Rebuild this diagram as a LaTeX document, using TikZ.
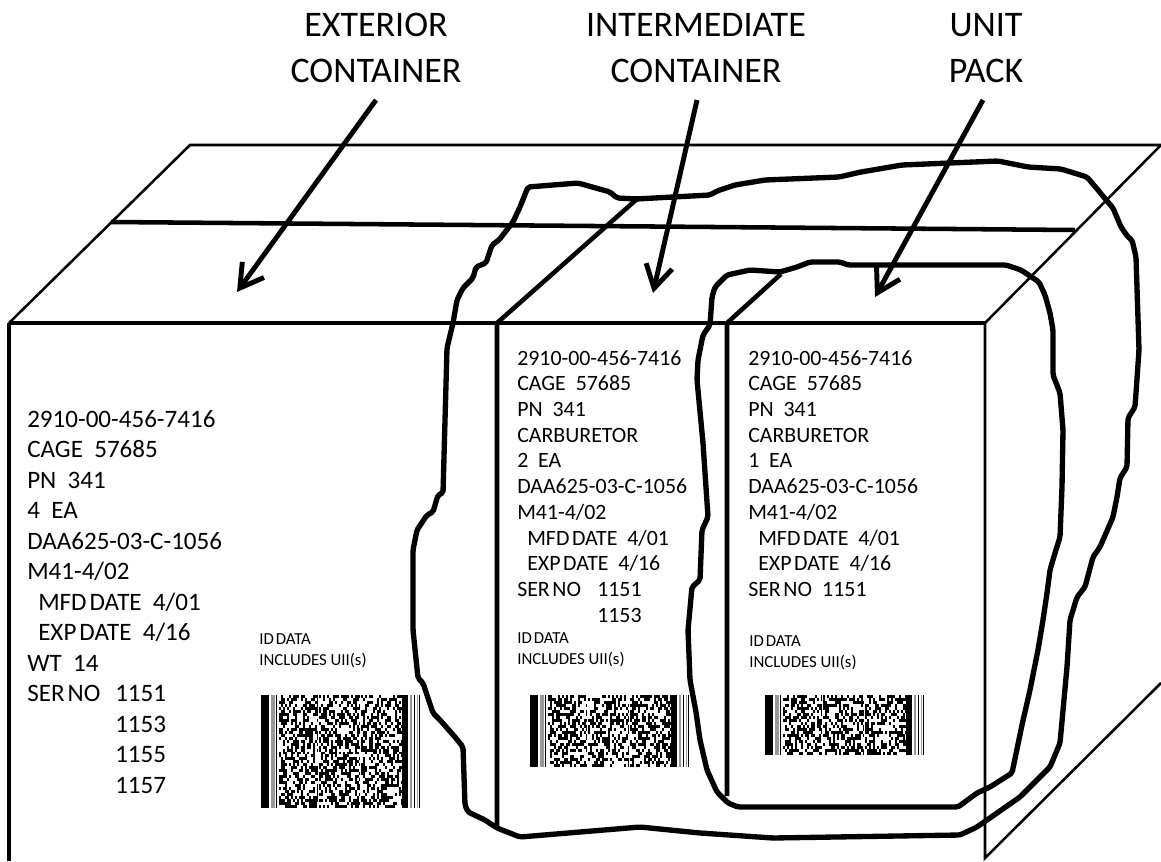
\documentclass[tikz,border=0pt]{standalone}
\usepackage{fontspec}
\setmainfont{Carlito}
\usetikzlibrary{arrows.meta}
\newlength\pxu
\setlength\pxu{0.75pt}
\newcommand\tsp{\hspace{0.12em}}
\newcommand\mybarcode[4]{%
 \begin{scope}[shift={(#1,#2)}]
  \pgfmathsetseed{#4}
  \fill (0,0) rectangle (8,#3);
  \fill[black!40] (9.5,0) rectangle (14,#3);
  \fill (15,0) rectangle (16,#3);
  \pgfmathtruncatemacro\bcrows{round(#3/3)}
  \pgfmathsetmacro\bcrh{#3/\bcrows}
  \foreach \c in {0,...,61}{
    \foreach \r in {1,...,\bcrows}{
      \pgfmathtruncatemacro\bcv{rnd<0.5}
      \ifnum\bcv=1 \fill (18+2*\c,{(\r-1)*\bcrh}) rectangle ++(2,\bcrh);\fi
    }
  }
  \fill[white] (57,0) rectangle (58,#3);
  \fill[white] (99,0) rectangle (100,#3);
  \fill (141,0) rectangle (147,#3);
  \fill[black!40] (149,0) rectangle (151,#3);
  \fill (153,0) rectangle (154,#3);
  \fill[black!40] (155.5,0) rectangle (157,#3);
  \fill (158,0) rectangle (159,#3);
 \end{scope}}
\begin{document}
\begin{tikzpicture}[x=0.75pt,y=-0.75pt,
  thinedge/.style={line width=1.9pt},
  midedge/.style={line width=2.7pt},
  boldedge/.style={line width=3.4pt},
  blob/.style={line width=4pt,line join=round,line cap=round,rounded corners=1.5pt},
  ptr/.style={line width=3.7pt,-{Straight Barb[length=17pt,width=20pt,line join=miter]}},
  txt/.style={inner sep=0pt,anchor=base west},
  lbl/.style={inner sep=0pt,anchor=base}]
\useasboundingbox (0,0) rectangle (1161,861);
\fill[white] (0,0) rectangle (1161,861);

% exterior box
\coordinate (ftl) at (9,323);
\coordinate (btl) at (190,145);
\coordinate (btr) at (1161,145);
\coordinate (ftr) at (985,323);
\coordinate (fbl) at (9,861);
\coordinate (fbr) at (985,858);
\coordinate (sbr) at (1161,683);
\coordinate (sl) at (111,222);
\coordinate (sr) at (1075,230);
\draw[thinedge] (ftl) -- (btl) -- (btr) -- (ftr);
\draw[midedge] (ftl) -- (ftr);
\draw[midedge] (ftl) -- (fbl);
\draw[thinedge] (ftr) -- (fbr) -- (sbr);
\draw[boldedge] (sl) -- (sr);

% intermediate container
\coordinate (itl) at (497,323);
\coordinate (ibl) at (497,828);
\coordinate (idg) at (637,199);
\draw[boldedge] (ibl) -- (itl) -- (idg);

% unit pack
\coordinate (utl) at (727,323);
\coordinate (ubl) at (727,796);
\coordinate (udg) at (781,274);
\draw[boldedge] (ubl) -- (utl) -- (udg);

% texts
\node[txt] (exttext) at (27,427) {\fontsize{18.8pt}{22.9pt}\selectfont
\begin{tabular}[t]{@{}l@{}}
2910-00-456-7416\\
CAGE\ \ 57685\\
PN\ \ 341\\
4\ \ EA\\
DAA625-03-C-1056\\
M41-4/02\\
\hspace*{11\pxu}MFD\tsp DATE\ \ 4/01\\
\hspace*{11\pxu}EXP\tsp DATE\ \ 4/16\\
WT\ \ 14\\
\makebox[88\pxu][l]{SER\tsp NO}1151\\
\hspace*{88\pxu}1153\\
\hspace*{88\pxu}1155\\
\hspace*{88\pxu}1157
\end{tabular}};

\node[txt] (inttext) at (517,365) {\fontsize{16.4pt}{19.3pt}\selectfont
\begin{tabular}[t]{@{}l@{}}
2910-00-456-7416\\
CAGE\ \ 57685\\
PN\ \ 341\\
CARBURETOR\\
2\ \ EA\\
DAA625-03-C-1056\\
M41-4/02\\
\hspace*{10\pxu}MFD\tsp DATE\ \ 4/01\\
\hspace*{10\pxu}EXP\tsp DATE\ \ 4/16\\
\makebox[80\pxu][l]{SER\tsp NO}1151\\
\hspace*{80\pxu}1153
\end{tabular}};

\node[txt] (unittext) at (748,365) {\fontsize{16.4pt}{19.3pt}\selectfont
\begin{tabular}[t]{@{}l@{}}
2910-00-456-7416\\
CAGE\ \ 57685\\
PN\ \ 341\\
CARBURETOR\\
1\ \ EA\\
DAA625-03-C-1056\\
M41-4/02\\
\hspace*{10\pxu}MFD\tsp DATE\ \ 4/01\\
\hspace*{10\pxu}EXP\tsp DATE\ \ 4/16\\
\makebox[74\pxu][l]{SER\tsp NO}1151
\end{tabular}};

\node[txt] (extid) at (259,644) {\fontsize{12.6pt}{15.75pt}\selectfont
\begin{tabular}[t]{@{}l@{}}ID\tsp DATA\\INCLUDES UII(s)\end{tabular}};
\node[txt] (intid) at (517,643) {\fontsize{12.6pt}{15.75pt}\selectfont
\begin{tabular}[t]{@{}l@{}}ID\tsp DATA\\INCLUDES UII(s)\end{tabular}};
\node[txt] (unitid) at (749,646) {\fontsize{12.6pt}{15.75pt}\selectfont
\begin{tabular}[t]{@{}l@{}}ID\tsp DATA\\INCLUDES UII(s)\end{tabular}};

% barcodes
\mybarcode{261}{695}{113}{11}
\mybarcode{530}{695}{72}{23}
\mybarcode{765}{695}{60}{37}

% outer blob
\draw[blob] (528,187) -- (578,183) -- (610,192) -- (617,198) -- (636,199) -- (710,195) -- (717,191) -- (735,185) -- (765,180) -- (839,177) -- (861,172) -- (902,165) -- (998,161) -- (1028,167) -- (1061,169) -- (1087,177) -- (1098,190) -- (1102,195) -- (1113,208) -- (1121,227) -- (1128,237) -- (1132,240) -- (1136,257) -- (1139,350) -- (1135,407) -- (1128,418) -- (1127,467) -- (1120,478) -- (1117,497) -- (1113,517) -- (1100,547) -- (1093,557) -- (1085,587) -- (1077,597) -- (1070,620) -- (1067,667) -- (1060,743) -- (1050,767) -- (1020,797) -- (997,813) -- (977,827) -- (960,835) -- (773,838) -- (700,833) -- (640,827) -- (520,837) -- (497,828) -- (485,820) -- (468,812) -- (465,805) -- (463,747) -- (455,737) -- (440,720) -- (433,713) -- (423,683) -- (418,678) -- (413,630) -- (413,550) -- (417,530) -- (427,515) -- (433,512) -- (438,495) -- (443,493) -- (447,348) -- (453,323) -- (457,300) -- (463,288) -- (473,278) -- (476,267) -- (486,263) -- (492,245) -- (499,240) -- (513,222) -- (520,207) -- cycle;

% inner blob
\draw[blob] (715,287) -- (727,275) -- (750,270) -- (780,272) -- (797,267) -- (810,262) -- (840,262) -- (848,265) -- (1006,265) -- (1021,270) -- (1039,282) -- (1045,295) -- (1050,313) -- (1053,330) -- (1053,375) -- (1060,393) -- (1063,430) -- (1062,487) -- (1060,537) -- (1055,553) -- (1050,570) -- (1047,593) -- (1043,620) -- (1038,650) -- (1030,690) -- (1022,725) -- (1012,773) -- (990,787) -- (977,793) -- (958,807) -- (738,807) -- (728,803) -- (717,792) -- (707,770) -- (700,740) -- (696,712) -- (690,680) -- (688,630) -- (692,587) -- (700,580) -- (702,530) -- (708,517) -- (703,443) -- (697,380) -- (698,360) -- (703,335) -- (710,325) -- (712,297) -- cycle;

% labels
\node[lbl] (lblext) at (376,36) {\fontsize{27pt}{34.5pt}\selectfont
\begin{tabular}[t]{@{}c@{}}EXTERIOR\\CONTAINER\end{tabular}};
\node[lbl] (lblint) at (696,36) {\fontsize{27pt}{34.5pt}\selectfont
\begin{tabular}[t]{@{}c@{}}INTERMEDIATE\\CONTAINER\end{tabular}};
\node[lbl] (lblunit) at (986,36) {\fontsize{27pt}{34.5pt}\selectfont
\begin{tabular}[t]{@{}c@{}}UNIT\\PACK\end{tabular}};

% arrows
\coordinate (a1t) at (376,100);
\coordinate (a1h) at (237,292);
\coordinate (a2t) at (697,100);
\coordinate (a2h) at (653,293);
\coordinate (a3t) at (983,100);
\coordinate (a3h) at (875,297);
\draw[ptr] (a1t) -- (a1h);
\draw[ptr] (a2t) -- (a2h);
\draw[ptr] (a3t) -- (a3h);
\end{tikzpicture}
\end{document}
